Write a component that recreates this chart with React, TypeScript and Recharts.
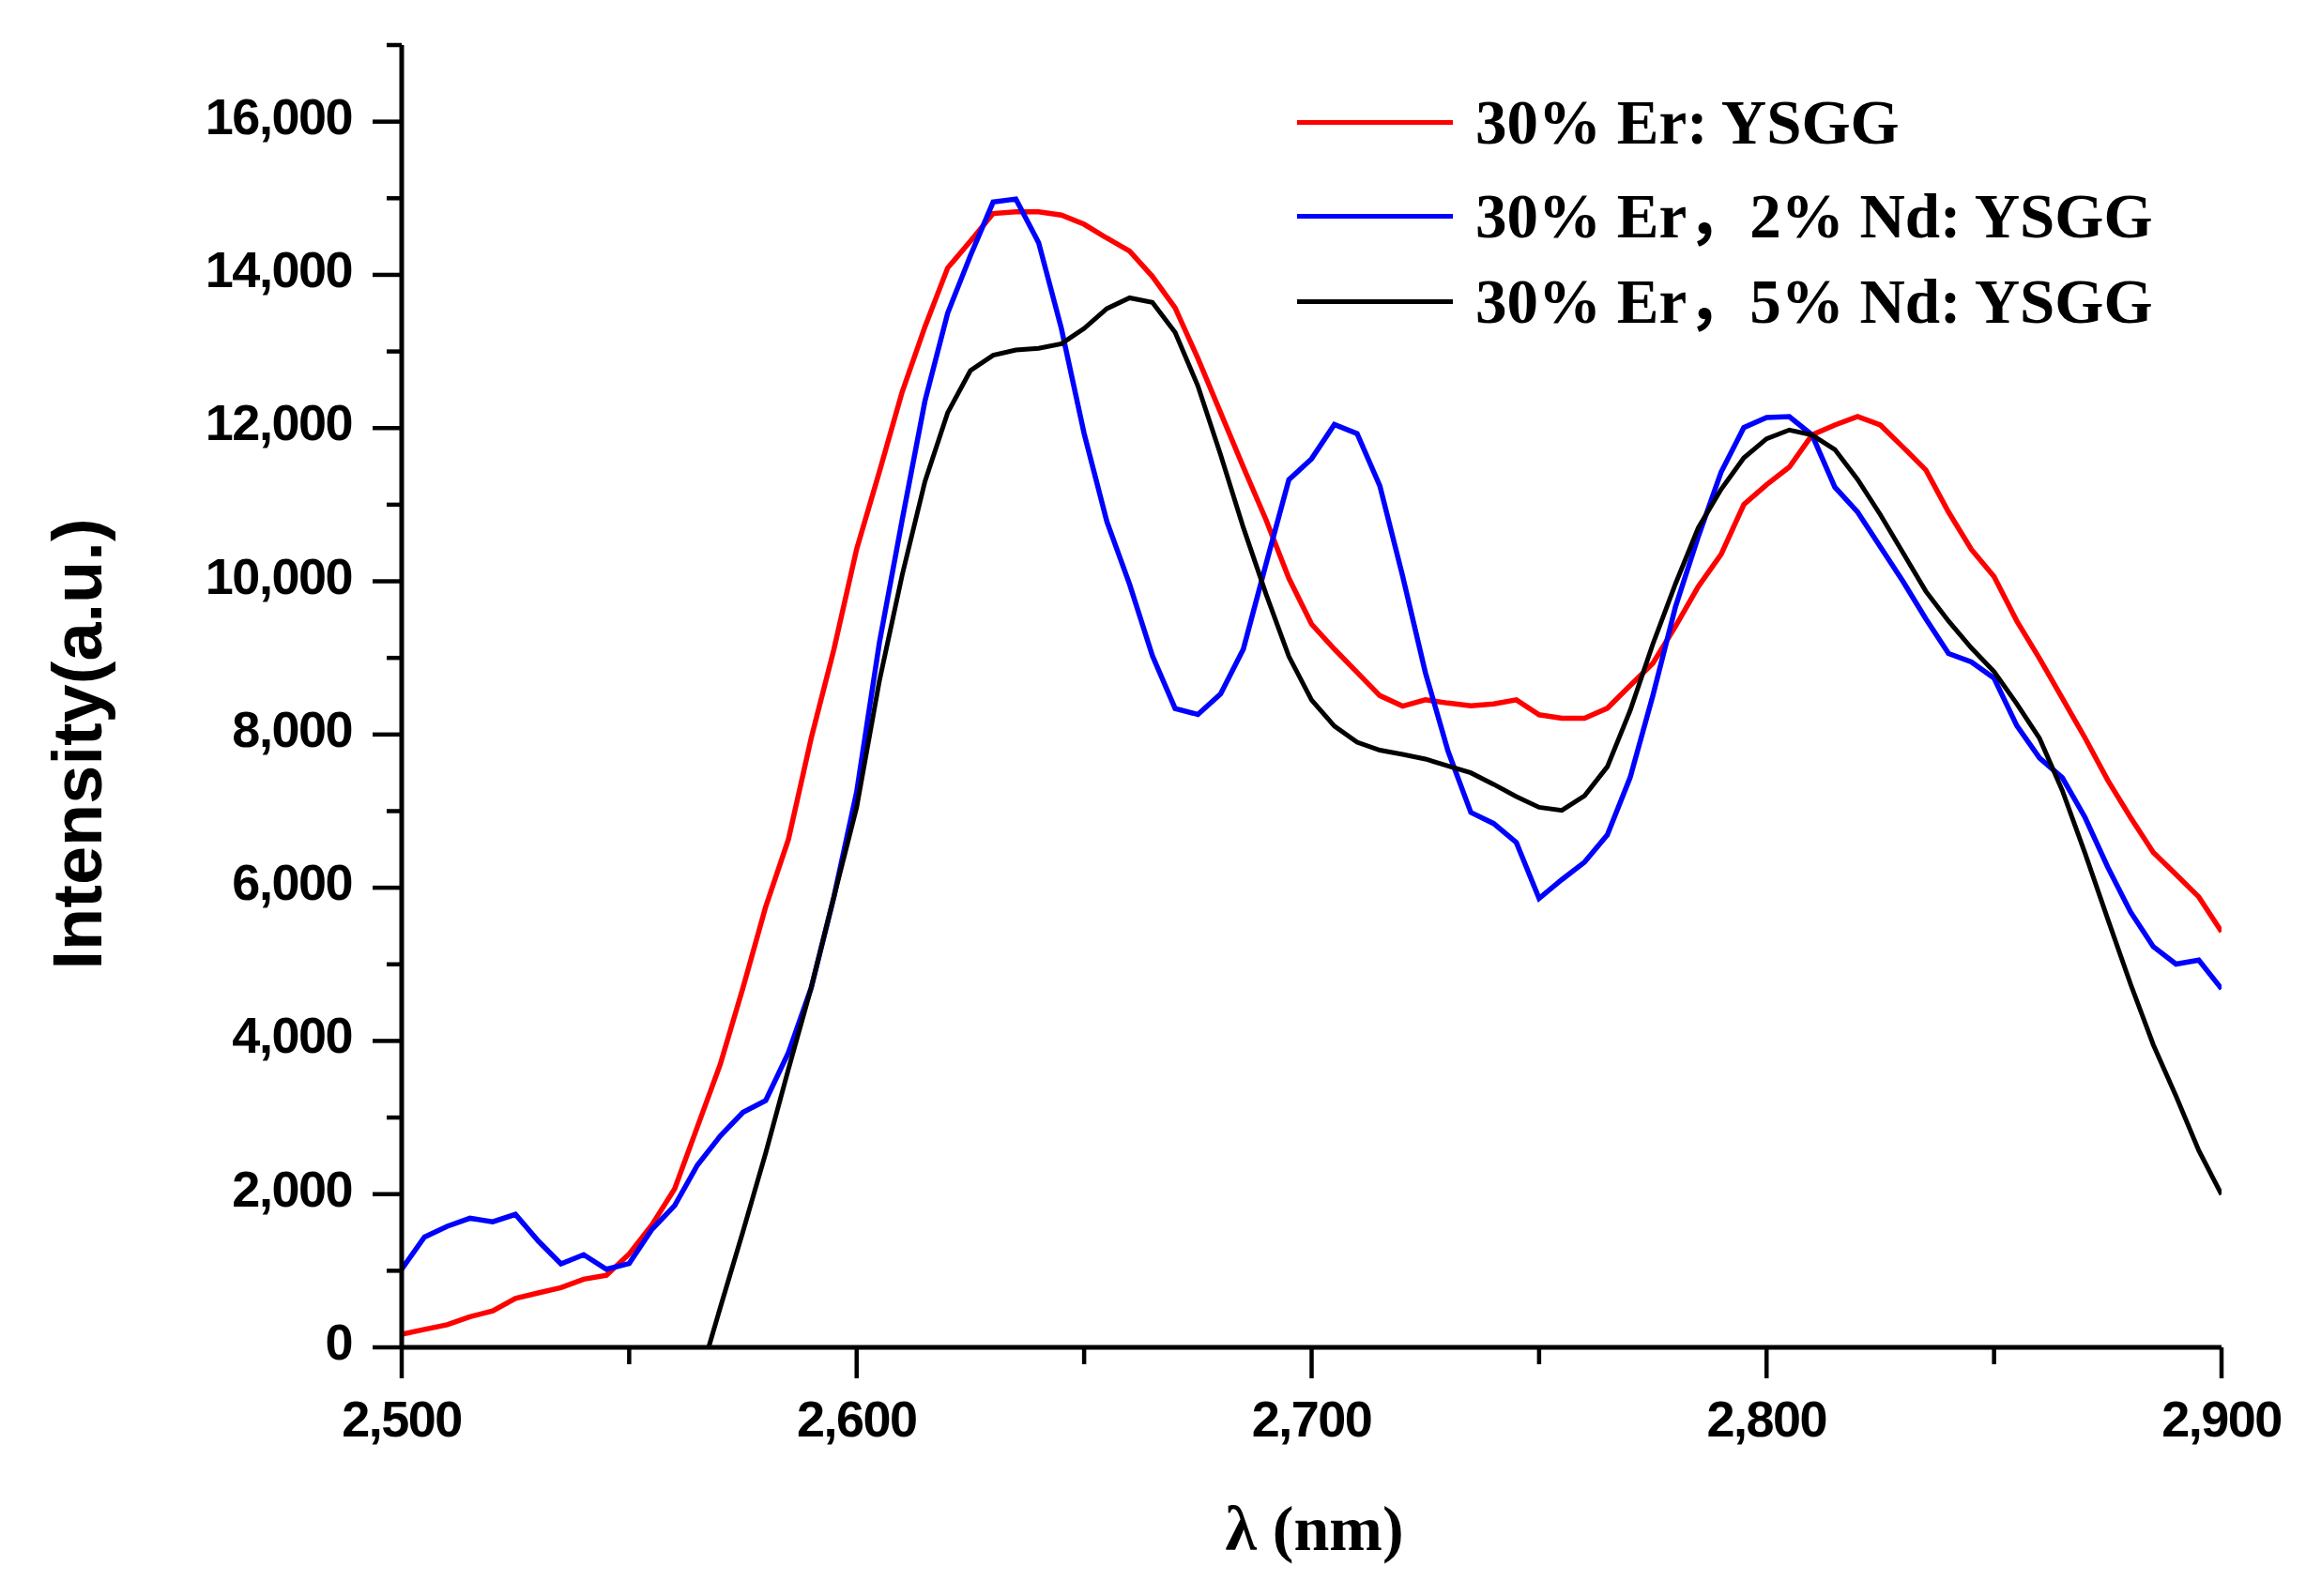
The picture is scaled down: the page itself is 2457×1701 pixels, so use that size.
import React from 'react';
import { LineChart, Line, XAxis, YAxis, Legend } from 'recharts';

const wavelengths = [
  2500, 2505, 2510, 2515, 2520, 2525, 2530, 2535, 2540, 2545,
  2550, 2555, 2560, 2565, 2570, 2575, 2580, 2585, 2590, 2595,
  2600, 2605, 2610, 2615, 2620, 2625, 2630, 2635, 2640, 2645,
  2650, 2655, 2660, 2665, 2670, 2675, 2680, 2685, 2690, 2695,
  2700, 2705, 2710, 2715, 2720, 2725, 2730, 2735, 2740, 2745,
  2750, 2755, 2760, 2765, 2770, 2775, 2780, 2785, 2790, 2795,
  2800, 2805, 2810, 2815, 2820, 2825, 2830, 2835, 2840, 2845,
  2850, 2855, 2860, 2865, 2870, 2875, 2880, 2885, 2890, 2895,
  2900,
];

const er30 = [
  170, 235, 295, 400, 475, 640, 710, 780, 890, 940,
  1220, 1600, 2070, 2880, 3690, 4690, 5750, 6630, 7950, 9110,
  10420, 11430, 12470, 13320, 14090, 14440, 14800, 14824, 14824, 14780,
  14660, 14480, 14310, 13980, 13570, 12910, 12200, 11490, 10800, 10040,
  9440, 9115, 8810, 8508, 8371, 8453, 8410, 8376, 8400, 8453,
  8258, 8213, 8213, 8343, 8637, 8928, 9414, 9932, 10352, 11001,
  11261, 11491, 11910, 12040, 12150, 12040, 11750, 11454, 10903, 10418,
  10062, 9482, 8992, 8473, 7955, 7403, 6917, 6462, 6174, 5880,
  5427,
];

const er30nd2 = [
  1020, 1440, 1580, 1685, 1640, 1736, 1390, 1090, 1210, 1020,
  1095, 1540, 1850, 2380, 2757, 3067, 3222, 3847, 4692, 5880,
  7250, 9200, 10800, 12350, 13500, 14250, 14950, 14990, 14420, 13300,
  11927, 10780, 9960, 9030, 8340, 8262, 8530, 9115, 10230, 11325,
  11600, 12046, 11927, 11245, 10070, 8810, 7780, 6983, 6838, 6591,
  5860, 6106, 6334, 6689, 7436, 8506, 9672, 10585, 11424, 12007,
  12137, 12150, 11910, 11229, 10904, 10450, 9997, 9510, 9057, 8947,
  8735, 8116, 7693, 7436, 6917, 6268, 5684, 5231, 5003, 5055,
  4680,
];

const er30nd5 = [
  null, null, null, null, null, null, null, null, null, null,
  null, null, null, -500, 514, 1510, 2536, 3629, 4692, 5880,
  7050, 8700, 10080, 11300, 12200, 12750, 12950, 13020, 13040, 13100,
  13300, 13560, 13700, 13640, 13250, 12550, 11650, 10700, 9830, 9020,
  8450, 8110, 7900, 7795, 7740, 7680, 7590, 7500, 7350, 7190,
  7050, 7010, 7200, 7580, 8310, 9180, 9970, 10700, 11200, 11610,
  11860, 11975, 11910, 11720, 11330, 10870, 10370, 9870, 9480, 9130,
  8820, 8400, 7950, 7270, 6450, 5590, 4743, 3950, 3280, 2570,
  1995,
];

const xTicks = [2500, 2550, 2600, 2650, 2700, 2750, 2800, 2850, 2900];
const yTicks = [
  0, 1000, 2000, 3000, 4000, 5000, 6000, 7000, 8000, 9000,
  10000, 11000, 12000, 13000, 14000, 15000, 16000, 17000,
];

const seriesNames = ['30% Er: YSGG', '30% Er，2% Nd: YSGG', '30% Er，5% Nd: YSGG'];
const seriesKeys = ['er', 'nd2', 'nd5'];
const seriesColors = ['#ff0000', '#0000ff', '#000000'];

const data = wavelengths.map((w, i) => ({
  w,
  er: er30[i],
  nd2: er30nd2[i],
  nd5: er30nd5[i],
}));

const SANS = '"Liberation Sans", Arial, Helvetica, sans-serif';
const SERIF = '"Liberation Serif", "Noto Sans CJK SC", "Times New Roman", Times, serif';

const fmt = (v: number) => v.toLocaleString('en-US');

const YTick = (props: any) => {
  const { x, y, payload } = props;
  const v = payload.value;
  const major = v % 2000 === 0;
  return (
    <g>
      <line x1={x - (major ? 31 : 16)} x2={x} y1={y} y2={y} stroke="#000" strokeWidth={4.5} />
      {major && (
        <text
          x={x - 53}
          y={y + 13}
          textAnchor="end"
          fontFamily={SANS}
          fontWeight="bold"
          fontSize={54}
          letterSpacing={-1.5}
          fill="#000"
        >
          {fmt(v)}
        </text>
      )}
    </g>
  );
};

const XTick = (props: any) => {
  const { x, y, payload } = props;
  const v = payload.value;
  const major = v % 100 === 0;
  return (
    <g>
      <line x1={x} x2={x} y1={y} y2={y + (major ? 33 : 18)} stroke="#000" strokeWidth={4.5} />
      {major && (
        <text
          x={x}
          y={y + 95}
          textAnchor="middle"
          fontFamily={SANS}
          fontWeight="bold"
          fontSize={54}
          letterSpacing={-1.5}
          fill="#000"
        >
          {fmt(v)}
        </text>
      )}
    </g>
  );
};

const XTitle = (props: any) => {
  const vb = props.viewBox || { x: 420, y: 1428, width: 1939, height: 200 };
  return (
    <text
      x={vb.x + vb.width / 2 + 3}
      y={vb.y + 216}
      textAnchor="middle"
      fontFamily={SERIF}
      fontWeight="bold"
      fontSize={68}
      fill="#000"
    >
      λ (nm)
    </text>
  );
};

const YTitle = (props: any) => {
  const vb = props.viewBox || { x: 120, y: 40, width: 300, height: 1388 };
  const cx = vb.x + vb.width - 346;
  const cy = vb.y + vb.height / 2 + 51;
  return (
    <text
      x={cx}
      y={cy}
      transform={`rotate(-90 ${cx} ${cy})`}
      textAnchor="middle"
      dominantBaseline="central"
      fontFamily={SANS}
      fontWeight="bold"
      fontSize={74}
      fill="#000"
    >
      Intensity(a.u.)
    </text>
  );
};

const legendRowTops = [0, 100, 191];

const renderLegend = () => (
  <div style={{ position: 'relative', width: 1000, height: 300 }}>
    {seriesNames.map((name, i) => (
      <div
        key={name}
        style={{
          position: 'absolute',
          left: 0,
          top: legendRowTops[i],
          height: 100,
          display: 'flex',
          alignItems: 'center',
        }}
      >
        <div style={{ width: 166, height: 5, background: seriesColors[i] }} />
        <span
          style={{
            marginLeft: 24,
            fontFamily: SERIF,
            fontWeight: 'bold',
            fontSize: 67,
            lineHeight: 1,
            whiteSpace: 'nowrap',
            color: '#000',
          }}
        >
          {name}
        </span>
      </div>
    ))}
  </div>
);

export default function App() {
  return (
    <div style={{ width: 2440, height: 1680, background: '#fff' }}>
      <LineChart
        width={2440}
        height={1680}
        data={data}
        margin={{ top: 40, right: 81, left: 120, bottom: 52 }}
      >
        <XAxis
          dataKey="w"
          type="number"
          domain={[2500, 2900]}
          ticks={xTicks}
          allowDataOverflow
          height={200}
          axisLine={{ stroke: '#000', strokeWidth: 5 }}
          tickLine={false}
          tickSize={0}
          tickMargin={0}
          tick={<XTick />}
          interval={0}
          label={<XTitle />}
        />
        <XAxis
          xAxisId="top"
          orientation="top"
          dataKey="w"
          type="number"
          domain={[2500, 2900]}
          height={0}
          tick={false}
          tickLine={false}
          axisLine={{ stroke: '#000', strokeWidth: 5 }}
        />
        <YAxis
          type="number"
          domain={[0, 17000]}
          ticks={yTicks}
          allowDataOverflow
          width={300}
          axisLine={{ stroke: '#000', strokeWidth: 5 }}
          tickLine={false}
          tickSize={0}
          tickMargin={0}
          tick={<YTick />}
          interval={0}
          label={<YTitle />}
        />
        <YAxis
          yAxisId="right"
          orientation="right"
          type="number"
          domain={[0, 17000]}
          width={0}
          tick={false}
          tickLine={false}
          axisLine={{ stroke: '#000', strokeWidth: 5 }}
        />
        <Legend
          layout="vertical"
          align="center"
          verticalAlign="middle"
          content={renderLegend}
          wrapperStyle={{ left: 1374, top: 72, width: 1000, height: 300 }}
        />
        {seriesKeys.map((k, i) => (
          <Line
            key={k}
            dataKey={k}
            name={seriesNames[i]}
            type="linear"
            stroke={seriesColors[i]}
            strokeWidth={i === 2 ? 5 : 5.5}
            dot={false}
            activeDot={false}
            isAnimationActive={false}
            connectNulls={false}
          />
        ))}
      </LineChart>
    </div>
  );
}
